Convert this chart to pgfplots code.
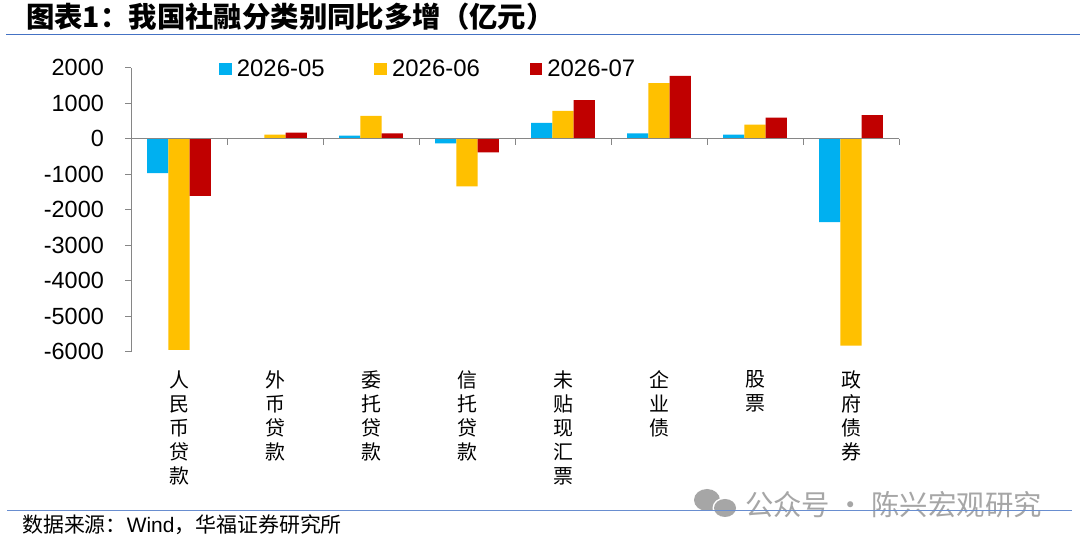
\documentclass[border=0pt]{standalone}
\usepackage{fontspec}
\setmainfont{Liberation Sans}
\newfontfamily\cjk{Noto Sans CJK SC}
\usepackage{pgfplots}
\usepackage{pgfplotstable}
\pgfplotsset{compat=1.18}
\definecolor{cblue}{HTML}{00B0F0}
\definecolor{cyellow}{HTML}{FFC000}
\definecolor{cred}{HTML}{C00000}
\definecolor{axgray}{HTML}{868686}
\definecolor{lineblue}{HTML}{4472C4}
\definecolor{wmgray}{HTML}{A6A6A6}

\pgfplotstableread{
x a b c
0 -972 -5950 -1610
1 0 113 170
2 85 640 150
3 -132 -1340 -387
4 445 785 1088
5 151 1568 1766
6 113 396 595
7 -2350 -5830 662
}\data

\begin{document}
\begin{tikzpicture}[x=1bp,y=1bp]
\useasboundingbox (0,0) rectangle (1080,550);
\fill[white] (0,0) rectangle (1080,550);
% title
\node[anchor=base west, inner sep=0pt, font=\cjk\bfseries\fontsize{28.5}{31}\selectfont] at (26,522.5) {图表1：我国社融分类别同比多增（亿元）};
\draw[lineblue, line width=1.2bp] (6,515.5) -- (1080,515.5);

\begin{axis}[
  at={(131bp,198.3bp)}, anchor=south west,
  scale only axis, width=768bp, height=284bp,
  xmin=-0.5, xmax=7.5, ymin=-6000, ymax=2000,
  axis y line=left, axis x line=bottom,
  y axis line style={-, axgray, line width=1bp},
  x axis line style={draw=none},
  ytick={-6000,-5000,...,2000},
  ytick style={axgray, line width=1bp},
  tick align=outside,
  major tick length=6bp,
  xtick={0,...,7},
  xtick style={draw=none},
  xticklabels={人\\民\\币\\贷\\款, 外\\币\\贷\\款, 委\\托\\贷\\款, 信\\托\\贷\\款, 未\\贴\\现\\汇\\票, 企\\业\\债, 股\\票, 政\\府\\债\\券},
  xticklabel style={font=\cjk\fontsize{20}{24}\selectfont, align=center, anchor=north, inner sep=0pt, yshift=-13bp},
  yticklabel style={font=\fontsize{23.5}{26}\selectfont, inner sep=0pt, xshift=-21bp},
  /pgf/number format/assume math mode=true,
  /pgf/number format/1000 sep={},
  scaled y ticks=false,
  ybar=0pt, bar width=21.3bp,
  legend columns=3,
  legend style={at={(0.1146,0.9954)}, anchor=west, draw=none, fill=none, inner sep=0pt,
    font=\fontsize{24}{26}\selectfont,
    nodes={inner sep=0pt},
    /tikz/every odd column/.append style={column sep=5bp},
    /tikz/every even column/.append style={column sep=49.8bp}},
  legend image code/.code={\fill[#1] (0bp,-6.35bp) rectangle (12.7bp,6.35bp);},
  clip=false,
]
\addplot[fill=cblue, draw=none] table[x=x, y=a] {\data};
\addplot[fill=cyellow, draw=none] table[x=x, y=b] {\data};
\addplot[fill=cred, draw=none] table[x=x, y=c] {\data};
\legend{2026-05, 2026-06, 2026-07}
\draw[axgray, line width=1.2bp] (axis cs:-0.5,0) -- (axis cs:7.5,0);
\pgfplotsinvokeforeach{-0.5,0.5,...,7.5}{\draw[axgray, line width=1bp] (axis cs:#1,0) -- ([yshift=-6bp]axis cs:#1,0);}
\end{axis}

% watermark
\fill[wmgray] (707,50) ellipse [x radius=13, y radius=11];
\fill[white] (725,42) ellipse [x radius=12.5, y radius=10.5];
\fill[wmgray] (725,42) ellipse [x radius=11, y radius=9];
\node[anchor=west, inner sep=0pt, text=wmgray, font=\cjk\fontsize{28.5}{31}\selectfont] at (745,45) {公众号 · 陈兴宏观研究};
\draw[lineblue!80, line width=1bp] (7,39) -- (1072,39);
% source
\node[anchor=base west, inner sep=0pt, font=\fontsize{21}{24}\selectfont] at (22,17.5) {{\cjk 数据来源：}Wind{\cjk ，华福证券研究所}};
\end{tikzpicture}
\end{document}
